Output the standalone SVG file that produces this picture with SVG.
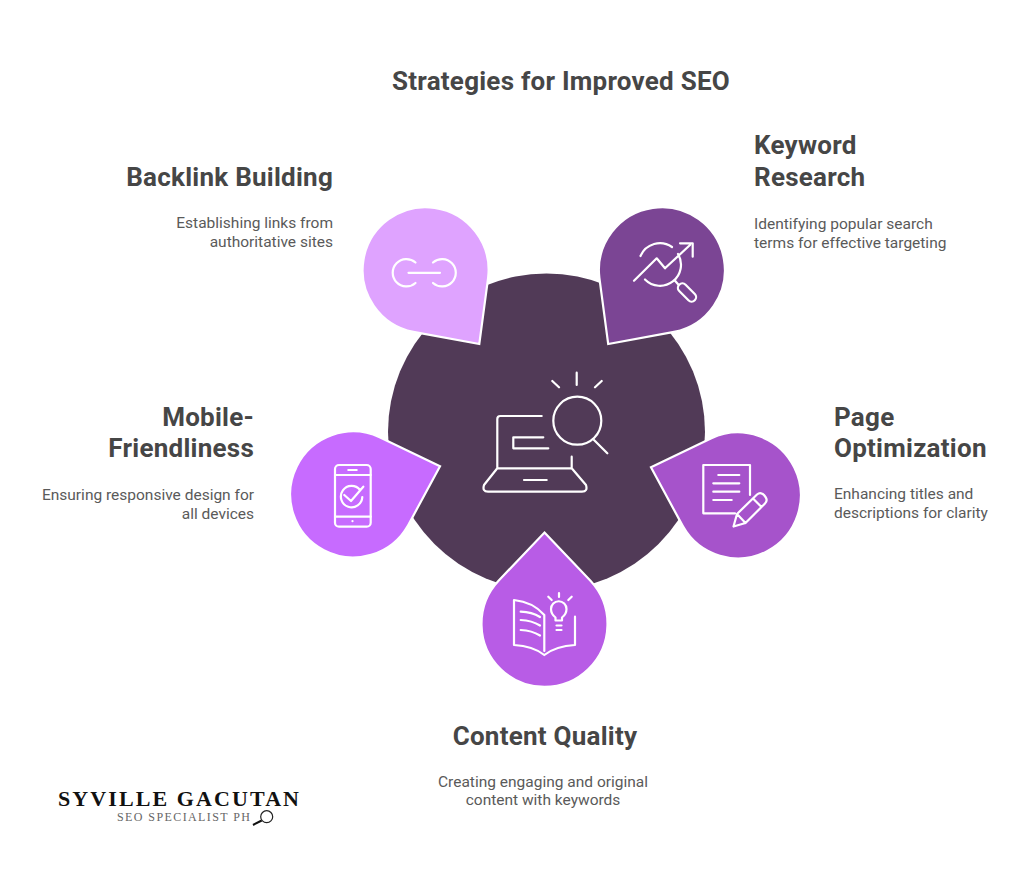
<svg xmlns="http://www.w3.org/2000/svg" width="1024" height="880" viewBox="0 0 1024 880">
<style>
.h{font-family:Roboto,"Liberation Sans",sans-serif;font-weight:700;font-size:26px;letter-spacing:.25px;fill:#464646}
.d{font-family:Roboto,"Liberation Sans",sans-serif;font-size:15.5px;fill:#5a5a5a}
.e{text-anchor:end}.m{text-anchor:middle}
.drop{stroke:#fff;stroke-width:2.2;stroke-linejoin:miter}
.i{fill:none;stroke:#fff;stroke-width:2.2;stroke-linecap:round;stroke-linejoin:round}
</style>
<defs><path id="drop" class="drop" d="M0,-91.5 L46.2,-43 A63,63 0 1 1 -46.2,-43 Z"/></defs>
<rect width="1024" height="880" fill="#fff"/>
<text id="title" class="h m" x="561" y="90">Strategies for Improved SEO</text>
<g id="center">
<circle cx="546.5" cy="432" r="158.5" fill="#513a57"/>
<path class="i" d="M541.7,416H500.3Q497.3,416 497.3,419V468.3H571.7V456.7M497.3,468.3L484,485Q482,491.7 488,491.7H582Q588,491.7 586,485L571.7,468.3M524,480H546.7M543.3,437.3H513.3V448.3H548.3M594,440L607.3,453.3M576.7,372.7V385M552.3,381L559,387.3M601.7,381L595,387.3"/>
<circle class="i" cx="577.3" cy="420.7" r="24"/>
</g>
<g id="backlink">
<use href="#drop" transform="translate(425.5,270) rotate(144)" fill="#dfa3ff"/>
<path class="i" d="M415.5,262.5A13.7,13.7 0 1 0 415.5,283M433,262.5A13.7,13.7 0 1 1 433,283M408.5,272.8H440"/>
<text class="h e" x="333" y="186">Backlink Building</text>
<text class="d e" x="333" y="228">Establishing links from</text>
<text class="d e" x="333" y="247">authoritative sites</text>
</g>
<g id="keyword">
<use href="#drop" transform="translate(662,270) rotate(-144)" fill="#7b4594"/>
<path class="i" d="M640.5,256A21,21 0 0 1 672,247M678,254A21,21 0 0 1 645,279.5M634,280.7L656.7,258.3L665,268.3L690,245M680,243.3H692.7V256.7M675,280.7L678.3,284.5"/>
<rect class="i" x="676" y="288" width="22" height="9" rx="4.5" transform="rotate(45 687 292.5)"/>
<text class="h" x="754" y="154">Keyword</text>
<text class="h" x="754" y="186">Research</text>
<text class="d" x="754" y="229">Identifying popular search</text>
<text class="d" x="754" y="248">terms for effective targeting</text>
</g>
<g id="mobile">
<use href="#drop" transform="translate(353,494.5) rotate(72)" fill="#c76bff"/>
<rect class="i" x="335" y="465" width="35.7" height="61.7" rx="4"/>
<path class="i" d="M335,475H370.7M335,516.7H370.7M348.3,470H356.7M352.5,521V521.2M360,490A10.7,10.7 0 1 0 362.3,497M344.3,495L351,501L363.3,486.7"/>
<text class="h e" x="254" y="426">Mobile-</text>
<text class="h e" x="254" y="457">Friendliness</text>
<text class="d e" x="254" y="500">Ensuring responsive design for</text>
<text class="d e" x="254" y="519">all devices</text>
</g>
<g id="page">
<use href="#drop" transform="translate(738,495.5) rotate(-72)" fill="#a653cb"/>
<path class="i" d="M750,495V465H703.3V513.3H735M718.3,475H739.3M713.3,483.3H739.3M713.3,491.7H739.3M713.3,500H731.7M733.5,526.5L737,514L757,494.5Q760.5,491.5 764,495L765.5,497Q768,500.5 765,503.5L745.5,523ZM737,514L745.5,523M753,498.5L761.5,507"/>
<text class="h" x="834" y="426">Page</text>
<text class="h" x="834" y="457">Optimization</text>
<text class="d" x="834" y="499">Enhancing titles and</text>
<text class="d" x="834" y="518">descriptions for clarity</text>
</g>
<g id="content">
<use href="#drop" transform="translate(544.5,624)" fill="#b85ce6"/>
<path class="i" d="M544.3,615Q533,602 514,600V645Q533,646 544.3,655Q556,646 575,645V616.7M544.3,615V651M520.7,611.7Q532,612 540,617M520.7,620Q532,620.5 540,625.5M520.7,630Q532,630.5 540,635.5M559,593V597M548.3,596.7L551.7,600M571.7,596.7L568.3,600M556.5,625.5H561.5M556.5,630H561.5M555.5,620.5V617.5Q551,614 551,609A7.7,7.7 0 0 1 566.5,609Q566.5,614 562,617.5V620.5Z"/>
<text class="h m" x="545" y="745">Content Quality</text>
<text class="d m" x="543" y="787">Creating engaging and original</text>
<text class="d m" x="543" y="805">content with keywords</text>
</g>
<g id="logo">
<text x="58" y="806" font-family="'Liberation Serif',serif" font-weight="700" font-size="22" textLength="241" fill="#111">SYVILLE GACUTAN</text>
<text x="117" y="821" font-family="'Liberation Serif',serif" font-size="12" textLength="133" fill="#666">SEO SPECIALIST PH</text>
<circle cx="266.7" cy="816.7" r="6" fill="none" stroke="#222" stroke-width="1.2"/>
<path d="M253,825L261.7,820.5" stroke="#111" stroke-width="2" fill="none"/>
</g>
</svg>
